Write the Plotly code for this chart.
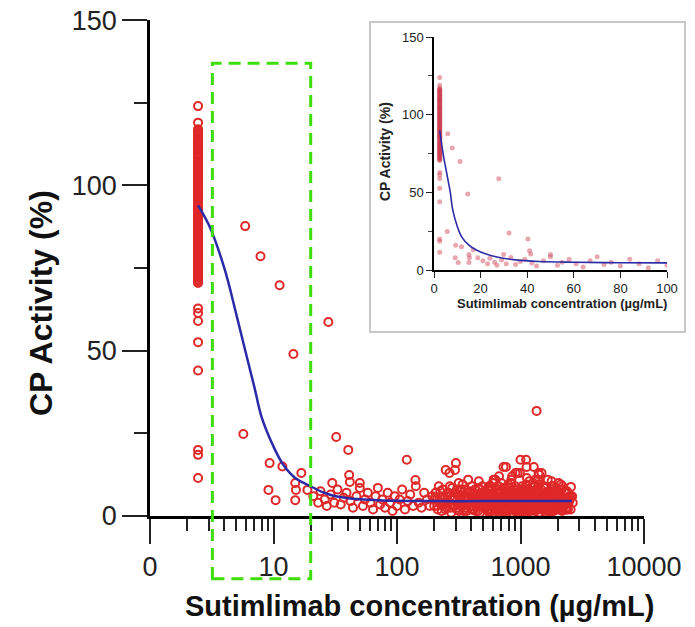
import math
import plotly.graph_objects as go

W, H = 695, 627

# concentración 0 se dibuja en esta posición del eje (etiqueta "0")
ZERO_POS = 2.45

# ---- datos: actividad con dosis 0 ----
zero_act = [124, 119, 117, 116, 115.2, 114, 113, 112.1, 111, 110, 109, 108.2, 107, 106,
            105, 104.1, 103, 102, 101, 100, 99, 98.1, 97, 96, 95, 94, 93, 92, 91, 90, 89,
            88, 87, 86, 85, 84, 83, 82, 81, 80, 79, 78, 77, 76, 75, 74, 73, 72, 71, 70.5,
            116.5, 115.6, 114.5, 113.5, 112.6, 111.5, 110.5, 109.5, 108.6, 107.5, 106.5,
            105.5, 104.6, 103.5, 102.5, 101.5, 100.5, 99.5, 98.6, 97.5, 96.5, 95.5, 94.5,
            93.5, 92.5, 91.5, 90.5, 89.5, 88.5, 87.5, 86.5, 85.5, 84.5, 83.5, 82.5, 81.5,
            80.5, 79.5, 78.5, 77.5, 76.5, 75.5, 74.5, 73.5, 72.5, 71.5,
            62.8, 61.4, 59, 52.6, 44, 20, 18.5, 11.5]

# ---- puntos a concentraciones bajas ----
low_conc = [5.9, 7.85, 11.2, 27.8, 14.5, 5.7, 32.2, 40.3, 9.3, 11.8, 16.8, 9.1, 10.4, 15,
            15.2, 15, 18.8, 29.9, 41, 41.5, 50, 120, 141, 1350]
low_act = [87.7, 78.6, 69.8, 58.7, 49, 24.8, 23.9, 20, 16, 15, 13, 7.9, 4.8, 10,
           7.9, 4.8, 7.9, 10, 12.4, 10.3, 10, 17, 10.9, 31.8]

# ---- 20-200 ug/mL ----
band_conc = [21, 23, 24, 26, 27, 29, 31, 33, 35, 37, 39, 42, 44, 47, 50, 53, 55, 58, 61, 64,
             67, 70, 73, 76, 80, 84, 88, 92, 96, 100, 105, 110, 116, 122, 128, 135, 142, 150,
             158, 166, 175, 184, 193]
band_act = [6, 4, 7.5, 5, 3, 6.5, 4, 8, 3.5, 5.5, 7, 4.5, 2.5, 6, 8.5, 3, 5, 7, 4, 2,
            6, 8.5, 3.5, 5, 2.5, 7, 4, 1.5, 6, 3, 5, 8, 2, 4.5, 6.5, 3, 9, 4, 2.5, 7,
            5, 3, 6]

# ---- 200-500 ug/mL ----
mid_conc = [200, 205, 210, 214, 218, 222, 226, 230, 235, 240, 244, 248, 252, 257, 262, 266,
            270, 275, 280, 285, 290, 295, 300, 305, 310, 316, 322, 328, 334, 340, 346, 352,
            358, 364, 370, 377, 384, 391, 398, 405, 412, 420, 428, 436, 444, 452, 460, 468,
            476, 484, 492, 500,
            203, 212, 224, 233, 246, 255, 268, 278, 288, 298, 308, 319, 331, 343, 355, 367,
            380, 394, 408, 423, 438, 455, 472, 488,
            250, 260, 272, 283, 294, 306, 318, 330, 342, 356, 370, 385, 400, 416, 432, 448,
            465, 482]
mid_act = [3, 7, 5, 2, 9, 4, 6, 1.5, 8, 3.5, 5.5, 13.9, 2.5, 7, 4, 13, 6, 1, 8.5, 3,
           5, 13.9, 16, 2, 6.5, 10, 4.5, 7.5, 3, 9.5, 1.5, 5, 8, 2.5, 6, 11, 4, 7, 3, 9,
           5.5, 2, 8, 4.5, 6.5, 1.5, 10.5, 3.5, 7, 5, 9, 2.5,
           5.5, 3, 7.5, 4, 2, 6, 9, 3.5, 5, 7, 2.5, 4.5, 8, 3, 6, 1.5, 5, 7.5, 2, 4,
           6, 8.5, 3, 5.5,
           4, 7, 2.5, 5.5, 3, 8, 1.5, 6, 4, 2, 7, 5, 3, 6, 1.5, 4.5, 8, 3.5]

# ---- 400-2700 ug/mL (zona densa) ----
dense_conc = [510, 525, 540, 556, 572, 589, 606, 624, 642, 661, 680, 700, 720, 741, 763, 785,
              808, 832, 856, 881, 907, 934, 961, 989, 1018, 1048, 1079, 1110, 1143, 1176,
              1210, 1246, 1282, 1320, 1358, 1398, 1439, 1481, 1524, 1569, 1615, 1662, 1711,
              1761, 1812, 1865, 1920, 1976, 2034, 2093, 2155, 2218, 2283, 2350, 2419, 2490,
              2560, 2650,
              517, 532, 548, 564, 580, 597, 615, 633, 651, 670, 690, 710, 730, 752, 774, 796,
              820, 844, 868, 894, 920, 947, 975, 1003, 1033, 1063, 1094, 1126, 1159, 1193,
              1228, 1264, 1301, 1339, 1378, 1418, 1460, 1502, 1546, 1592, 1638, 1686, 1736,
              1786, 1838, 1892, 1948, 2005, 2063, 2124, 2186, 2250, 2316, 2384, 2454, 2525,
              505, 535, 565, 595, 628, 660, 693, 727, 762, 798, 836, 875, 915, 956, 998, 1041,
              1086, 1132, 1180, 1229, 1280, 1333, 1388, 1444, 1502, 1562, 1624, 1688, 1754,
              1822, 1893, 1966, 2042, 2120, 2200, 2300, 2400,
              550, 585, 620, 655, 690, 725, 760, 800, 840, 880, 925, 970, 1015, 1065, 1115,
              1170, 1225, 1285, 1345, 1410, 1475, 1545, 1615, 1690, 1770,
              502, 520, 538, 558, 577, 598, 619, 640, 663, 686, 710, 735, 760, 787, 815, 843,
              873, 903, 935, 968, 1002, 1037, 1074, 1111, 1150, 1191, 1233, 1276, 1321, 1367,
              1415, 1465, 1516, 1570, 1625, 1682, 1741, 1802, 1865, 1931, 1999, 2069, 2142,
              2217, 2295, 2376, 2460, 2546, 2620,
              512, 545, 578, 612, 648, 684, 722, 762, 804, 848, 893, 940, 990, 1040, 1095,
              1150, 1208, 1268, 1330, 1395, 1462, 1532, 1605, 1680, 1758, 1840, 1925, 2012,
              2100, 2190, 2290, 2390, 2500,
              402, 418, 434, 451, 469, 487, 506, 530, 552, 575, 600, 632, 666, 700, 738, 778,
              820, 865, 912, 962, 1012, 1068, 1126, 1188, 1252, 1320, 1392, 1468, 1548, 1632,
              1720, 1814, 1912, 2016, 2125, 2240,
              508, 528, 549, 570, 592, 615, 639, 664, 690, 717, 745, 774, 804, 835, 868, 902,
              937, 973, 1011, 1050, 1091, 1134, 1178, 1224, 1272, 1321, 1373, 1426, 1482,
              1540, 1600, 1662, 1727, 1794, 1864, 1937, 2012, 2090, 2172, 2256, 2344, 2436,
              515, 560, 605, 652, 702, 755, 812, 873, 938, 1006, 1080, 1158, 1242, 1332, 1428,
              1530, 1640, 1757, 1882, 2015, 2160, 2310,
              604, 636, 670, 706, 744, 784, 826, 870, 917, 966, 1018, 1073, 1130, 1191, 1255,
              1322, 1393, 1468, 1547, 1630, 1717, 1809, 1906, 2008,
              1000, 1120, 910, 1400, 729, 625]
dense_act = [4, 7, 2, 9, 5, 3, 11, 6, 1.5, 8, 4.5, 10, 3, 6.5, 14.8, 2, 7.5, 5, 12, 3.5,
             9, 1, 6, 13, 4, 8, 2.5, 17, 5.5, 10.5, 3, 7, 14.8, 1.5, 6, 9.5, 4, 13, 2, 8.5,
             5, 11, 3, 7, 1.5, 9, 4.5, 6, 10, 2.5, 8, 5, 3.5, 7, 2, 6, 8.8, 4,
             6, 3, 8, 1.5, 5.5, 10, 4, 7, 2.5, 12, 5, 3, 8.5, 6, 1, 9.5, 4, 11, 2, 7,
             5.5, 13, 3, 6.5, 9, 1.5, 4.5, 11.5, 7.5, 2, 5, 10, 3.5, 8, 6, 12.5, 2.5, 4, 9,
             6.5, 1, 7.5, 3, 10.5, 5, 2, 8, 4, 6, 3, 9, 5, 2, 7.5, 4, 6,
             2.5, 5, 7.5, 3.5, 6, 9, 1.5, 4.5, 7, 3, 10, 5.5, 2, 8, 4, 6.5, 1, 9, 3.5, 5,
             7.5, 2.5, 11, 4, 6, 8.5, 3, 5.5, 1.5, 7, 4.5, 2, 6, 9.5, 3, 5, 7,
             4, 1.5, 6, 8, 3, 5, 2, 7, 4.5, 6, 1.5, 3.5, 8, 5, 2.5, 6.5, 4, 9, 2, 5.5,
             7, 3, 4.5, 6, 2.5,
             7, 3.5, 5, 1, 8, 6, 2.5, 4, 9, 5.5, 3, 7.5, 1.5, 6, 4, 10, 2, 5, 8, 3,
             6.5, 1.5, 4.5, 9.5, 2.5, 7, 5, 3, 11, 6, 1, 8, 4, 2.5, 7, 5.5, 3, 9, 1.5, 6,
             4, 8, 2, 5, 3.5, 7, 4.5, 2, 6,
             5, 8.5, 3, 6, 2, 7.5, 4, 1, 5.5, 3, 8, 2, 6.5, 4.5, 1.5, 7.5, 3, 5.5, 2, 8,
             4, 6, 1, 3.5, 7, 5, 2.5, 6, 4, 3, 7, 2, 5,
             2, 5, 3.5, 6.5, 1, 4, 7, 2.5, 5.5, 3, 6, 1.5, 4.5, 3, 7, 2, 5, 1, 6, 3.5,
             2, 5.5, 4, 1.5, 6.5, 3, 5, 2, 4, 7, 1.5, 3.5, 5.5, 2.5, 4.5, 3,
             3, 6, 1.5, 4.5, 8, 2.5, 5, 7, 3.5, 1, 6, 4, 8.5, 2, 5.5, 3, 7, 4.5, 1.5, 6,
             2.5, 8, 3.5, 5, 1, 7, 4, 2.5, 6, 3, 5.5, 1.5, 4, 7.5, 2, 5, 3, 6.5, 1.5, 4,
             2.5, 5,
             5.5, 2, 7, 3.5, 5, 1.5, 6.5, 3, 4.5, 8, 2, 5.5, 3.5, 6, 1, 4, 7, 2.5, 5, 3,
             6, 4,
             3.5, 6, 2, 5, 7.5, 3, 4.5, 6.5, 1.5, 5.5, 3, 7, 4, 2, 6, 4.5, 8, 2.5, 5, 3.5,
             6.5, 2, 4.5, 7,
             17, 14.8, 13, 13, 14.8, 11]

# ---- curva ajustada (gráfico principal, eje log) ----
fit_conc = [ZERO_POS, 3, 4, 5, 6, 7, 8, 10, 12, 15, 20, 25, 30, 40, 50, 70, 100, 200, 500, 1000, 2600]
fit_act = [94, 88, 75, 61, 49, 39, 30, 21, 15.5, 11.5, 9, 7.2, 6.2, 5.4, 5.1, 4.8, 4.6, 4.5, 4.5, 4.5, 4.5]

# ---- curva ajustada (recuadro, eje lineal) ----
ins_fit_conc = [ZERO_POS, 4, 5, 6, 7, 8, 10, 12, 15, 18, 22, 27, 35, 45, 60, 80, 100]
ins_fit_act = [90, 74, 66, 58, 50, 39, 28, 21, 16, 13, 10.5, 8.4, 6.5, 5.5, 5, 4.7, 4.6]

x_tickvals = [1, 10, 100, 1000, 10000]
x_ticktext = ["0", "10", "100", "1000", "10000"]
y_tickvals = [0, 50, 100, 150]
ins_x_tickvals = [0, 20, 40, 60, 80, 100]

conc_all = low_conc + band_conc + mid_conc + dense_conc
act_all = low_act + band_act + mid_act + dense_act


# píxeles de la imagen -> coordenadas de papel
def pxx(x):
    return x / W


def pxy(y):
    return 1 - y / H


MX = [pxx(150), pxx(644)]
MY = [pxy(516), pxy(20)]
IX = [pxx(434), pxx(667)]
IY = [pxy(270), pxy(37)]
Y_TOP = 150.05


def paper_x(v):
    return MX[0] + math.log10(v) / 4 * (MX[1] - MX[0])


def paper_y(v):
    return MY[0] + v / Y_TOP * (MY[1] - MY[0])


RED = "#e02828"
BLUE = "#2b2ba8"
FONT = "Liberation Sans, Arial, sans-serif"

fig = go.Figure()

# gráfico principal
fig.add_trace(go.Scatter(x=[ZERO_POS] * len(zero_act) + conc_all, y=zero_act + act_all,
                         mode="markers", cliponaxis=False, showlegend=False,
                         marker=dict(symbol="circle-open", size=8, color=RED, line=dict(width=2))))
fig.add_trace(go.Scatter(x=fit_conc, y=fit_act, mode="lines", showlegend=False,
                         line=dict(color=BLUE, width=2.5, shape="spline")))

# recuadro (0-100 ug/mL)
ins_c = [c for c in conc_all if c <= 100]
ins_a = [a for c, a in zip(conc_all, act_all) if c <= 100]
fig.add_trace(go.Scatter(x=[ZERO_POS] * len(zero_act) + ins_c, y=zero_act + ins_a,
                         xaxis="x2", yaxis="y2", mode="markers", showlegend=False,
                         marker=dict(size=5, color="rgba(205,60,80,0.45)")))
fig.add_trace(go.Scatter(x=ins_fit_conc, y=ins_fit_act, xaxis="x2", yaxis="y2",
                         mode="lines", showlegend=False,
                         line=dict(color=BLUE, width=1.6, shape="spline")))

main_ax = dict(showline=True, linecolor="black", linewidth=2.5, ticks="outside",
               ticklen=25, tickwidth=2, tickcolor="#222", showgrid=False, zeroline=False,
               automargin=False, tickfont=dict(family=FONT, size=27, color="#222"))
ins_ax = dict(showline=True, linecolor="black", linewidth=1.5, ticks="outside", ticklen=6,
              tickcolor="#222", showgrid=False, zeroline=False, automargin=False,
              tickmode="array", tickfont=dict(family=FONT, size=13, color="#222"))

minor_x = [m * 10 ** d for d in range(4) for m in range(2, 10)]
fig.update_layout(
    width=W, height=H, margin=dict(l=0, r=0, t=0, b=0, autoexpand=False),
    paper_bgcolor="white", plot_bgcolor="white",
    xaxis=dict(main_ax, type="log", range=[0, 4], domain=MX, anchor="y",
               tickmode="array", tickvals=x_tickvals, ticktext=x_ticktext,
               minor=dict(tickvals=minor_x, ticks="outside", ticklen=12, tickwidth=2, tickcolor="#222")),
    yaxis=dict(main_ax, range=[0, Y_TOP], domain=MY, anchor="x",
               tickmode="array", tickvals=y_tickvals,
               minor=dict(tickvals=[25, 75, 125], ticks="outside", ticklen=13, tickwidth=2, tickcolor="#222")),
    xaxis2=dict(ins_ax, domain=IX, anchor="y2", range=[0, 100], tickvals=ins_x_tickvals),
    yaxis2=dict(ins_ax, domain=IY, anchor="x2", range=[0, Y_TOP], tickvals=y_tickvals,
                minor=dict(tickvals=[25, 75, 125], ticks="outside", ticklen=4, tickcolor="#444")),
)

# recuadro gris del inset y rectángulo verde discontinuo
fig.add_shape(type="rect", xref="paper", yref="paper", x0=pxx(370), x1=pxx(685),
              y0=pxy(332), y1=pxy(22), line=dict(color="#c8c8c8", width=2))
fig.add_shape(type="rect", xref="paper", yref="paper",
              x0=paper_x(3.2), x1=paper_x(20), y0=paper_y(-19), y1=paper_y(137),
              line=dict(color="#3ede0a", width=3, dash="12px,7px"))

# títulos de ejes
fig.add_annotation(text="<b>Sutimlimab concentration (µg/mL)</b>", xref="paper", yref="paper",
                   x=pxx(419), y=pxy(606), showarrow=False, xanchor="center", yanchor="middle",
                   font=dict(family=FONT, size=29, color="#111"))
fig.add_annotation(text="<b>CP Activity (%)</b>", xref="paper", yref="paper",
                   x=pxx(41), y=pxy(303), showarrow=False, textangle=-90,
                   xanchor="center", yanchor="middle", font=dict(family=FONT, size=32, color="#111"))
fig.add_annotation(text="<b>Sutimlimab concentration (µg/mL)</b>", xref="paper", yref="paper",
                   x=pxx(562), y=pxy(303), showarrow=False, xanchor="center", yanchor="middle",
                   font=dict(family=FONT, size=13, color="#222"))
fig.add_annotation(text="<b>CP Activity (%)</b>", xref="paper", yref="paper",
                   x=pxx(385), y=pxy(152), showarrow=False, textangle=-90,
                   xanchor="center", yanchor="middle", font=dict(family=FONT, size=14, color="#222"))

# quitar el margen del <body> para que la figura ocupe toda la ventana
fig.write_html("out.html", config={"displayModeBar": False},
               post_script="document.body.style.margin='0px';")
